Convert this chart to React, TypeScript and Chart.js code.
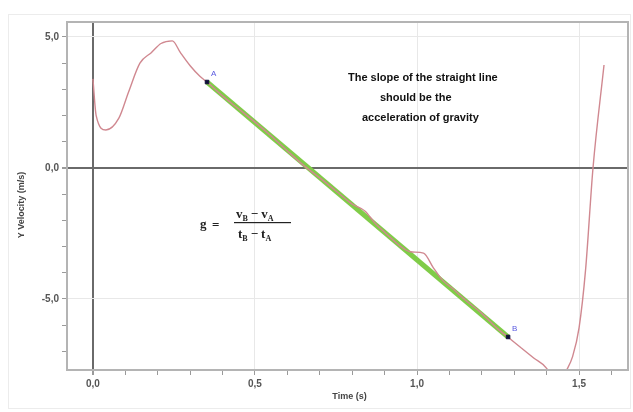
import React, { useEffect, useRef } from 'react';
import { Chart, registerables } from 'chart.js';

Chart.register(...registerables);

// Measured red curve (Y velocity vs time)
const timeS = [0.0, 0.01, 0.04, 0.08, 0.11, 0.145, 0.18, 0.21, 0.245, 0.27, 0.3, 0.33, 0.352, 0.4, 0.45, 0.5, 0.55, 0.6, 0.65, 0.7, 0.75, 0.8, 0.84, 0.87, 0.9, 0.95, 0.98, 1.02, 1.05, 1.08, 1.11, 1.15, 1.2, 1.25, 1.28, 1.32, 1.36, 1.4, 1.43, 1.46, 1.48, 1.5, 1.52, 1.543, 1.577];
const velocity = [3.4, 2.0, 1.45, 1.9, 2.9, 4.0, 4.4, 4.75, 4.85, 4.4, 3.9, 3.5, 3.28, 2.75, 2.25, 1.75, 1.22, 0.65, 0.1, -0.38, -0.88, -1.38, -1.65, -2.1, -2.45, -3.0, -3.2, -3.25, -3.8, -4.3, -4.6, -5.05, -5.55, -6.15, -6.45, -6.85, -7.25, -7.65, -8.4, -7.75, -7.2, -6.1, -3.9, 0.0, 3.93];

// Straight-line fit between markers A and B
const fitT = [0.352, 1.281];
const fitV = [3.28, -6.45];
const markerNames = ['A', 'B'];

const xMajor = [0, 0.5, 1.0, 1.5];
const xMajorLabels = ['0,0', '0,5', '1,0', '1,5'];
const yMajor = [-5, 0, 5];
const yMajorLabels = ['-5,0', '0,0', '5,0'];

const xTitle = 'Time (s)';
const yTitle = 'Y Velocity (m/s)';
const noteLines = ['The slope of the straight line', 'should be the', 'acceleration of gravity'];

const isMajor = (v: number, list: number[]) => list.some((m) => Math.abs(m - v) < 1e-6);
const labelFor = (v: number, list: number[], labels: string[]) => {
  const i = list.findIndex((m) => Math.abs(m - v) < 1e-6);
  return i >= 0 ? labels[i] : '';
};

const decorPlugin = {
  id: 'decor',
  beforeDraw(chart: any) {
    const ctx = chart.ctx;
    ctx.save();
    ctx.fillStyle = '#ffffff';
    ctx.fillRect(0, 0, chart.width, chart.height);
    ctx.strokeStyle = '#ececec';
    ctx.lineWidth = 1;
    ctx.strokeRect(8.5, 14.5, 622, 394);
    ctx.restore();
  },
  afterDatasetsDraw(chart: any) {
    const ctx = chart.ctx;
    const a = chart.chartArea;
    ctx.save();
    // plot frame
    ctx.strokeStyle = '#b4b4b4';
    ctx.lineWidth = 2;
    ctx.strokeRect(a.left, a.top, a.right - a.left, a.bottom - a.top);

    // marker labels
    const meta = chart.getDatasetMeta(2);
    ctx.fillStyle = '#5a5ae0';
    ctx.font = '8px "Liberation Sans", Arial, sans-serif';
    ctx.textAlign = 'left';
    ctx.textBaseline = 'middle';
    meta.data.forEach((p: any, i: number) => {
      ctx.fillText(markerNames[i], p.x + 4, p.y - 8);
    });

    // axis titles
    ctx.fillStyle = '#444';
    ctx.font = 'bold 9px "Liberation Sans", Arial, sans-serif';
    ctx.textAlign = 'center';
    ctx.fillText(xTitle, (a.left + a.right) / 2 + 2, 397);
    ctx.save();
    ctx.translate(22, 205);
    ctx.rotate(-Math.PI / 2);
    ctx.fillText(yTitle, 0, 0);
    ctx.restore();

    // note
    ctx.fillStyle = '#111';
    ctx.font = 'bold 11px "Liberation Sans", Arial, sans-serif';
    ctx.textAlign = 'left';
    ctx.fillText(noteLines[0], 348, 78);
    ctx.fillText(noteLines[1], 380, 98);
    ctx.fillText(noteLines[2], 362, 118);

    // formula
    ctx.fillStyle = '#222';
    ctx.textBaseline = 'alphabetic';
    const big = 'bold 13px "Liberation Serif", "DejaVu Serif", serif';
    const sub = 'bold 8px "Liberation Serif", "DejaVu Serif", serif';
    ctx.font = big;
    ctx.fillText('g', 200, 228);
    ctx.fillText('=', 212, 229);
    const drawPart = (x: number, y: number, sym: string, s1: string, s2: string) => {
      let cx = x;
      ctx.font = big;
      ctx.fillText(sym, cx, y);
      cx += ctx.measureText(sym).width;
      ctx.font = sub;
      ctx.fillText(s1, cx, y + 3);
      cx += ctx.measureText(s1).width + 3;
      ctx.font = big;
      ctx.fillText('\u2212', cx, y);
      cx += ctx.measureText('\u2212').width + 3;
      ctx.fillText(sym, cx, y);
      cx += ctx.measureText(sym).width;
      ctx.font = sub;
      ctx.fillText(s2, cx, y + 3);
    };
    drawPart(236, 218, 'v', 'B', 'A');
    ctx.fillRect(234, 222, 57, 1.2);
    drawPart(238, 238, 't', 'B', 'A');
    ctx.restore();
  },
};

export default function App() {
  const ref = useRef<HTMLCanvasElement | null>(null);
  useEffect(() => {
    if (!ref.current) return;
    const chart = new Chart(ref.current, {
      type: 'line',
      data: {
        datasets: [
          {
            label: 'fit',
            data: fitT.map((t, i) => ({ x: t, y: fitV[i] })),
            borderColor: '#80cc48',
            borderWidth: 5,
            pointRadius: 0,
            tension: 0,
            order: 3,
          },
          {
            label: 'velocity',
            data: timeS.map((t, i) => ({ x: t, y: velocity[i] })),
            borderColor: '#d08890',
            borderWidth: 1.4,
            pointRadius: 0,
            cubicInterpolationMode: 'monotone',
            order: 2,
          },
          {
            label: 'markers',
            data: fitT.map((t, i) => ({ x: t, y: fitV[i] })),
            showLine: false,
            pointStyle: 'rect',
            pointRadius: 2.5,
            backgroundColor: '#10103a',
            borderColor: '#10103a',
            order: 1,
          },
        ],
      },
      options: {
        responsive: false,
        animation: false,
        layout: { padding: { left: 0, top: 22, right: 5, bottom: 0 } },
        plugins: { legend: { display: false }, tooltip: { enabled: false } },
        scales: {
          x: {
            type: 'linear',
            min: -0.08,
            max: 1.651,
            afterFit: (s: any) => { s.height = 42; },
            border: { display: true, color: '#b4b4b4', width: 2 },
            grid: {
              color: (c: any) => (c.tick && Math.abs(c.tick.value) < 1e-6 ? '#6a6a6a' : c.tick && isMajor(c.tick.value, xMajor) ? '#e8e8e8' : 'rgba(0,0,0,0)'),
              lineWidth: (c: any) => (c.tick && Math.abs(c.tick.value) < 1e-6 ? 2 : 1),
              tickColor: '#9a9a9a',
              tickLength: 5,
            },
            ticks: {
              stepSize: 0.1,
              includeBounds: false,
              autoSkip: false,
              maxRotation: 0,
              padding: 3,
              color: '#555',
              font: { size: 10, weight: 'bold', family: '"Liberation Sans", Arial, sans-serif' },
              callback: (v: any) => labelFor(Number(v), xMajor, xMajorLabels),
            },
          },
          y: {
            type: 'linear',
            min: -7.71,
            max: 5.57,
            afterFit: (s: any) => { s.width = 67; },
            border: { display: true, color: '#b4b4b4', width: 2 },
            grid: {
              color: (c: any) => (c.tick && Math.abs(c.tick.value) < 1e-6 ? '#6a6a6a' : c.tick && isMajor(c.tick.value, yMajor) ? '#e8e8e8' : 'rgba(0,0,0,0)'),
              lineWidth: (c: any) => (c.tick && Math.abs(c.tick.value) < 1e-6 ? 2 : 1),
              tickColor: '#9a9a9a',
              tickLength: 5,
            },
            ticks: {
              stepSize: 1,
              includeBounds: false,
              autoSkip: false,
              padding: 3,
              color: '#555',
              font: { size: 10, weight: 'bold', family: '"Liberation Sans", Arial, sans-serif' },
              callback: (v: any) => labelFor(Number(v), yMajor, yMajorLabels),
            },
          },
        },
      } as any,
      plugins: [decorPlugin],
    });
    return () => chart.destroy();
  }, []);
  return (
    <div style={{ position: 'fixed', left: 0, top: 0, width: 633, height: 412, background: '#fff' }}>
      <canvas ref={ref} width={633} height={412} style={{ display: 'block' }} />
    </div>
  );
}
